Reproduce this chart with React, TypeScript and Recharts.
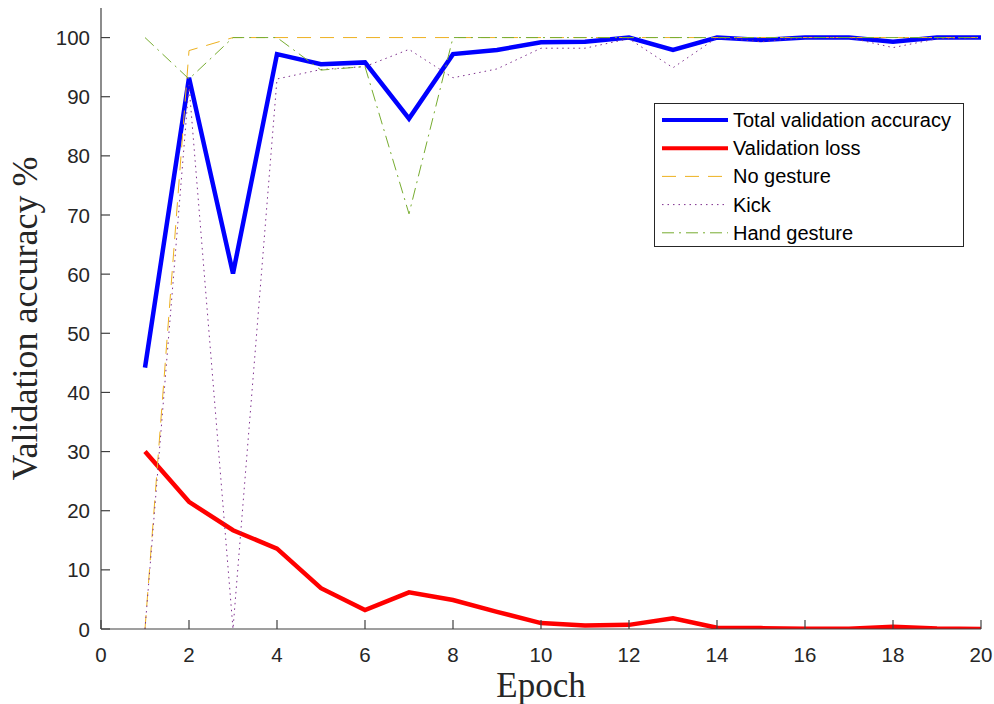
import React from 'react';
import { LineChart, Line, XAxis, YAxis, Legend } from 'recharts';

const epochs = [1, 2, 3, 4, 5, 6, 7, 8, 9, 10, 11, 12, 13, 14, 15, 16, 17, 18, 19, 20];
const totalAccuracy = [44.2, 93.2, 60.1, 97.2, 95.5, 95.8, 86.3, 97.2, 97.9, 99.2, 99.3, 100, 97.9, 100, 99.6, 100, 100, 99.3, 100, 100];
const validationLoss = [30.0, 21.5, 16.7, 13.6, 6.9, 3.2, 6.2, 4.9, 2.9, 1.0, 0.6, 0.7, 1.8, 0.2, 0.15, 0.05, 0.05, 0.4, 0.1, 0.0];
const noGesture = [0, 97.8, 100, 100, 100, 100, 100, 100, 100, 100, 100, 100, 100, 100, 100, 100, 100, 100, 100, 100];
const kick = [0, 92, 0, 93, 94.6, 95.1, 98, 93.2, 94.7, 98.2, 98.2, 99.8, 94.9, 100, 99.3, 100, 100, 98.3, 99.8, 100];
const handGesture = [100, 93, 100, 100, 94.5, 95.1, 70.2, 100, 100, 100, 100, 100, 100, 100, 100, 100, 100, 100, 100, 100];

const xTicks = [0, 2, 4, 6, 8, 10, 12, 14, 16, 18, 20];
const yTicks = [0, 10, 20, 30, 40, 50, 60, 70, 80, 90, 100];

const data = epochs.map((e, i) => ({
  epoch: e,
  total: totalAccuracy[i],
  loss: validationLoss[i],
  noGesture: noGesture[i],
  kick: kick[i],
  hand: handGesture[i],
}));

const series = [
  { key: 'total', name: 'Total validation accuracy', color: '#0000FF', width: 4.5, dash: undefined as string | undefined, legendWidth: 4 },
  { key: 'loss', name: 'Validation loss', color: '#FF0000', width: 4.5, dash: undefined as string | undefined, legendWidth: 4 },
  { key: 'noGesture', name: 'No gesture', color: '#EDB120', width: 1, dash: '14 9', legendWidth: 1 },
  { key: 'kick', name: 'Kick', color: '#7E2F8E', width: 1, dash: '1.5 4', legendWidth: 1 },
  { key: 'hand', name: 'Hand gesture', color: '#77AC30', width: 1, dash: '12 5 2 5', legendWidth: 1 },
];

const AXIS_COLOR = '#404040';
const TEXT_COLOR = '#262626';
const SANS = '"Liberation Sans", Arial, Helvetica, sans-serif';
const SERIF = '"Liberation Serif", "Times New Roman", serif';
const TICK_LEN = 9;
const TICK_FS = 20.5;

const LeftTick = (props: any) => {
  const { x, y, payload } = props;
  return (
    <g>
      <line x1={x} x2={x + TICK_LEN} y1={y} y2={y} stroke={AXIS_COLOR} strokeWidth={1.2} />
      <text x={x - 11} y={y} textAnchor="end" dominantBaseline="central" fontFamily={SANS} fontSize={TICK_FS} fill={TEXT_COLOR}>
        {payload.value}
      </text>
    </g>
  );
};

const BottomTick = (props: any) => {
  const { x, y, payload } = props;
  return (
    <g>
      <line x1={x} x2={x} y1={y} y2={y - TICK_LEN} stroke={AXIS_COLOR} strokeWidth={1.2} />
      <text x={x} y={y + 25} textAnchor="middle" dominantBaseline="central" fontFamily={SANS} fontSize={TICK_FS} fill={TEXT_COLOR}>
        {payload.value}
      </text>
    </g>
  );
};

const RightTick = (props: any) => {
  const { x, y } = props;
  return <line x1={x} x2={x - TICK_LEN} y1={y} y2={y} stroke={AXIS_COLOR} strokeWidth={1.2} />;
};

const TopTick = (props: any) => {
  const { x, y } = props;
  return <line x1={x} x2={x} y1={y} y2={y + TICK_LEN} stroke={AXIS_COLOR} strokeWidth={1.2} />;
};

const LegendBox = () => {
  const w = 309;
  const h = 143;
  const rowH = 28.2;
  return (
    <svg width={w + 2} height={h + 2} style={{ display: 'block' }}>
      <rect x={0.5} y={0.5} width={w} height={h} fill="#ffffff" stroke="#262626" strokeWidth={1} />
      {series.map((s, i) => {
        const cy = 17 + i * rowH;
        return (
          <g key={s.key}>
            <line x1={8} x2={74} y1={cy} y2={cy} stroke={s.color} strokeWidth={s.legendWidth} strokeDasharray={s.dash} />
            <text x={79} y={cy} dominantBaseline="central" fontFamily={SANS} fontSize={20} fill="#000">
              {s.name}
            </text>
          </g>
        );
      })}
    </svg>
  );
};

export default function App() {
  return (
    <div style={{ position: 'absolute', left: 0, top: 0, width: 994, height: 704, background: '#fff' }}>
      <LineChart width={994} height={704} data={data} margin={{ top: 8, right: 13, bottom: 0, left: 0 }}>
        <XAxis
          xAxisId="bottom"
          dataKey="epoch"
          type="number"
          domain={[0, 20]}
          ticks={xTicks}
          allowDataOverflow
          height={75}
          tickSize={0}
          tickMargin={0}
          tickLine={false}
          axisLine={{ stroke: AXIS_COLOR, strokeWidth: 1.2 }}
          tick={<BottomTick />}
          interval={0}
          label={{
            content: (p: any) => {
              const vb = p.viewBox || {};
              return (
                <text x={vb.x + vb.width / 2} y={vb.y + 68} textAnchor="middle" fontFamily={SERIF} fontSize={35} fill={TEXT_COLOR}>
                  Epoch
                </text>
              );
            },
          }}
        />
        <XAxis
          xAxisId="top"
          orientation="top"
          dataKey="epoch"
          type="number"
          domain={[0, 20]}
          ticks={xTicks}
          allowDataOverflow
          height={0}
          tickSize={0}
          tickMargin={0}
          tickLine={false}
          axisLine={{ stroke: AXIS_COLOR, strokeWidth: 1.2 }}
          tick={<TopTick />}
          interval={0}
        />
        <YAxis
          yAxisId="left"
          type="number"
          domain={[0, 105]}
          ticks={yTicks}
          allowDataOverflow
          width={101}
          tickSize={0}
          tickMargin={0}
          tickLine={false}
          axisLine={{ stroke: AXIS_COLOR, strokeWidth: 1.2 }}
          tick={<LeftTick />}
          interval={0}
          label={{
            content: (p: any) => {
              const vb = p.viewBox || {};
              const bx = vb.x + 37;
              const cy = vb.y + vb.height / 2;
              return (
                <text x={bx} y={cy} transform={`rotate(-90 ${bx} ${cy})`} textAnchor="middle" fontFamily={SERIF} fontSize={36} fill={TEXT_COLOR}>
                  Validation accuracy %
                </text>
              );
            },
          }}
        />
        <YAxis
          yAxisId="right"
          orientation="right"
          type="number"
          domain={[0, 105]}
          ticks={yTicks}
          allowDataOverflow
          width={0}
          tickSize={0}
          tickMargin={0}
          tickLine={false}
          axisLine={{ stroke: AXIS_COLOR, strokeWidth: 1.2 }}
          tick={<RightTick />}
          interval={0}
        />
        {series.map((s) => (
          <Line
            key={s.key}
            xAxisId="bottom"
            yAxisId="left"
            type="linear"
            dataKey={s.key}
            name={s.name}
            stroke={s.color}
            strokeWidth={s.width}
            strokeDasharray={s.dash}
            strokeLinejoin="miter"
            dot={false}
            activeDot={false}
            isAnimationActive={false}
          />
        ))}
        <Legend
          layout="horizontal"
          verticalAlign="middle"
          align="center"
          content={<LegendBox />}
          wrapperStyle={{ position: 'absolute', left: 654, top: 103, width: 311, height: 145 }}
        />
      </LineChart>
    </div>
  );
}
